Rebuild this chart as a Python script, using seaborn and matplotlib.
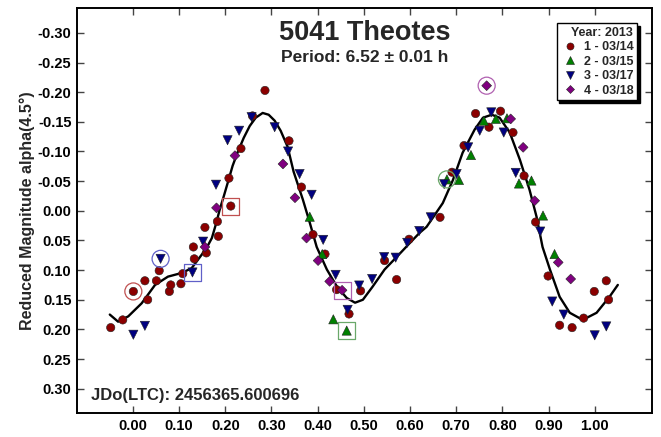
import numpy as np
import pandas as pd
import matplotlib
matplotlib.use("Agg")
import matplotlib.pyplot as plt
import seaborn as sns

# ---------------- data ----------------
sessions = ["1 - 03/14", "2 - 03/15", "3 - 03/17", "4 - 03/18"]
colors = ["#8b0000", "#008000", "#000080", "#800080"]
marker_shapes = ["o", "^", "v", "D"]
marker_areas = [36, 44, 44, 25]

s1_phase = [-0.048, -0.022, 0.001, 0.026, 0.032, 0.051, 0.057, 0.079, 0.082, 0.104,
            0.108, 0.131, 0.133, 0.156, 0.159, 0.183, 0.185, 0.208, 0.212, 0.234,
            0.259, 0.286, 0.338, 0.365, 0.390, 0.416, 0.441, 0.468, 0.493, 0.545,
            0.571, 0.598, 0.665, 0.691, 0.717, 0.742, 0.771, 0.796, 0.823, 0.847,
            0.872, 0.899, 0.924, 0.951, 0.976, 0.999, 1.025, 1.030]
s1_mag = [0.197, 0.184, 0.136, 0.118, 0.150, 0.118, 0.101, 0.136, 0.125, 0.123,
          0.106, 0.061, 0.081, 0.028, 0.071, 0.018, 0.043, -0.055, -0.008, -0.105,
          -0.160, -0.203, -0.118, -0.040, 0.040, 0.073, 0.133, 0.174, 0.135, 0.084,
          0.116, 0.048, 0.011, -0.065, -0.110, -0.164, -0.141, -0.168, -0.132, -0.059,
          0.019, 0.110, 0.193, 0.197, 0.181, 0.136, 0.118, 0.150]

s2_phase = [0.383, 0.410, 0.434, 0.463, 0.680, 0.706, 0.732, 0.760, 0.786, 0.810,
            0.836, 0.863, 0.888, 0.913]
s2_mag = [0.010, 0.073, 0.183, 0.202, -0.053, -0.052, -0.094, -0.152, -0.155, -0.156,
          -0.046, -0.051, 0.008, 0.073]

s3_phase = [0.001, 0.026, 0.060, 0.129, 0.152, 0.180, 0.205, 0.230, 0.257, 0.307,
            0.336, 0.361, 0.387, 0.412, 0.439, 0.465, 0.490, 0.518, 0.544, 0.569,
            0.594, 0.620, 0.645, 0.674, 0.701, 0.726, 0.751, 0.776, 0.803, 0.829,
            0.882, 0.908, 0.933, 1.000, 1.025]
s3_mag = [0.209, 0.194, 0.081, 0.104, 0.052, -0.044, -0.119, -0.135, -0.158, -0.141,
          -0.100, -0.062, -0.027, 0.049, 0.108, 0.167, 0.126, 0.115, 0.078, 0.079,
          0.054, 0.034, 0.011, -0.045, -0.062, -0.107, -0.135, -0.166, -0.132, -0.064,
          0.035, 0.153, 0.175, 0.210, 0.195]

s4_phase = [0.156, 0.181, 0.221, 0.325, 0.351, 0.376, 0.401, 0.426, 0.453, 0.766,
            0.818, 0.845, 0.870, 0.921, 0.948]
s4_mag = [0.061, -0.005, -0.093, -0.079, -0.022, 0.046, 0.084, 0.119, 0.134, -0.211,
          -0.155, -0.107, -0.017, 0.087, 0.115]

# first / last points of each session (circle / box highlights)
hl_phase = [0.001, 0.212, 0.680, 0.463, 0.060, 0.129, 0.766, 0.453]
hl_mag = [0.136, -0.008, -0.053, 0.202, 0.081, 0.104, -0.211, 0.134]
hl_session = [0, 0, 1, 1, 2, 2, 3, 3]
hl_kind = ["o", "s", "o", "s", "o", "s", "o", "s"]
hl_colors = ["#c05050", "#6aa86a", "#6060c8", "#b060b0"]

# Fourier fit curve
fit_phase = [-0.050, -0.032, -0.010, 0.019, 0.048, 0.076, 0.105, 0.127, 0.149, 0.160,
             0.171, 0.180, 0.188, 0.197, 0.206, 0.216, 0.227, 0.240, 0.253, 0.266,
             0.281, 0.294, 0.307, 0.320, 0.335, 0.348, 0.368, 0.383, 0.398, 0.420,
             0.442, 0.463, 0.481, 0.498, 0.519, 0.545, 0.571, 0.600, 0.621, 0.636,
             0.671, 0.693, 0.714, 0.740, 0.758, 0.777, 0.794, 0.816, 0.838, 0.859,
             0.874, 0.887, 0.903, 0.924, 0.946, 0.974, 1.004, 1.032, 1.050]
fit_mag = [0.175, 0.187, 0.178, 0.156, 0.125, 0.111, 0.105, 0.097, 0.074, 0.062,
           0.046, 0.022, -0.002, -0.025, -0.049, -0.076, -0.099, -0.123, -0.143, -0.157,
           -0.165, -0.162, -0.152, -0.135, -0.108, -0.066, -0.019, 0.020, 0.061, 0.099,
           0.128, 0.147, 0.155, 0.150, 0.128, 0.099, 0.078, 0.054, 0.037, 0.027,
           -0.013, -0.052, -0.098, -0.137, -0.157, -0.162, -0.157, -0.132, -0.086, -0.035,
           0.010, 0.061, 0.099, 0.145, 0.172, 0.184, 0.172, 0.145, 0.125]

x_ticks = [0.0, 0.1, 0.2, 0.3, 0.4, 0.5, 0.6, 0.7, 0.8, 0.9, 1.0]
y_ticks = [-0.30, -0.25, -0.20, -0.15, -0.10, -0.05, 0.0, 0.05, 0.10, 0.15, 0.20, 0.25, 0.30]

title = "5041 Theotes"
subtitle = "Period: 6.52 \u00b1 0.01 h"
jd_text = "JDo(LTC): 2456365.600696"
y_label = "Reduced Magnitude alpha(4.5\u00b0)"
legend_title = "Year: 2013"

# ---------------- build frame ----------------
frames = []
for name, ph, mg in zip(sessions, [s1_phase, s2_phase, s3_phase, s4_phase],
                        [s1_mag, s2_mag, s3_mag, s4_mag]):
    frames.append(pd.DataFrame({"phase": ph, "mag": mg, "session": name}))
df = pd.concat(frames, ignore_index=True)

sns.set_theme(style="ticks")
plt.rcParams["font.family"] = ["Liberation Sans", "DejaVu Sans"]
plt.rcParams["font.weight"] = "bold"
plt.rcParams["axes.unicode_minus"] = False

fig = plt.figure(figsize=(6.61, 4.37), dpi=100)
ax = fig.add_axes([77 / 661, 1 - 413 / 437, 575 / 661, 405 / 437])

sns.lineplot(x=fit_phase, y=fit_mag, sort=False, color="black", linewidth=1.7,
             ax=ax, legend=False, zorder=2)

sns.scatterplot(data=df, x="phase", y="mag", hue="session", style="session",
                size="session",
                palette=dict(zip(sessions, colors)),
                markers=dict(zip(sessions, marker_shapes)),
                sizes=dict(zip(sessions, marker_areas)),
                edgecolor="#222222", linewidth=0.4, ax=ax, zorder=3)

for ph, mg, si, kind in zip(hl_phase, hl_mag, hl_session, hl_kind):
    ax.scatter([ph], [mg], marker=kind, s=150, facecolors="none",
               edgecolors=hl_colors[si], linewidths=0.9, zorder=4)

ax.set_xlim(-0.121, 1.124)
ax.set_ylim(0.341, -0.342)
ax.set_xticks(x_ticks)
ax.set_yticks(y_ticks)
ax.set_xticklabels([f"{v:.2f}" for v in x_ticks], fontsize=10.5, fontweight="bold")
ax.set_yticklabels([f"{v:.2f}" for v in y_ticks], fontsize=10.5, fontweight="bold")
ax.tick_params(direction="in", length=5, width=1, top=True, right=True,
               colors="#444444", labelcolor="black", pad=4)
for sp in ax.spines.values():
    sp.set_visible(True)
    sp.set_linewidth(1.4)
    sp.set_color("black")

ax.set_xlabel("")
ax.set_ylabel(y_label, fontsize=11.5, fontweight="bold", labelpad=2)

ax.text(0.5, 0.938, title, transform=ax.transAxes, ha="center", va="center",
        fontsize=19.5, fontweight="bold")
ax.text(0.5, 0.877, subtitle, transform=ax.transAxes, ha="center", va="center",
        fontsize=12.5, fontweight="bold")
ax.text(0.024, 0.044, jd_text, transform=ax.transAxes, ha="left", va="center",
        fontsize=12, fontweight="bold")

handles, labels = ax.get_legend_handles_labels()
leg = ax.legend(handles, labels, title=legend_title, loc="upper right",
                bbox_to_anchor=(0.974, 0.963), frameon=True, fancybox=False,
                edgecolor="black", framealpha=1,
                shadow={"color": "black", "alpha": 1},
                prop={"weight": "bold", "size": 9},
                title_fontproperties={"weight": "bold", "size": 9},
                alignment="right", borderpad=0.3, labelspacing=0.2,
                handletextpad=0.25, handlelength=1.6, borderaxespad=0,
                markerscale=0.85)
leg.get_frame().set_linewidth(1.0)

fig.savefig("out.png", dpi=100)
